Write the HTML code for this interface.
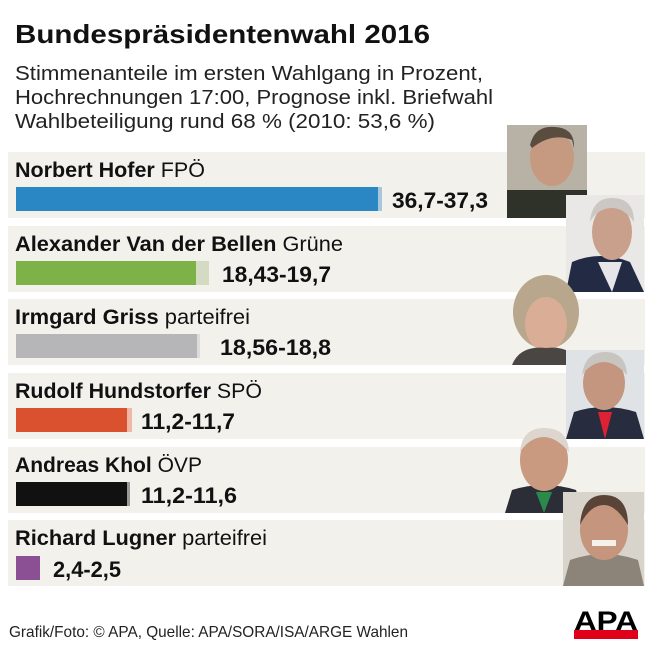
<!DOCTYPE html>
<html><head><meta charset="utf-8"><style>
body{margin:0;background:#fff}
svg text{font-family:"Liberation Sans",sans-serif}
</style></head><body>
<svg width="650" height="650" xmlns="http://www.w3.org/2000/svg">
<rect width="650" height="650" fill="#fff"/>
<text x="15" y="43" font-size="26" font-weight="bold" fill="#111" textLength="415" lengthAdjust="spacingAndGlyphs">Bundespräsidentenwahl 2016</text>
<text x="15" y="80" font-size="20" fill="#222" textLength="468" lengthAdjust="spacingAndGlyphs">Stimmenanteile im ersten Wahlgang in Prozent,</text>
<text x="15" y="104" font-size="20" fill="#222" textLength="478" lengthAdjust="spacingAndGlyphs">Hochrechnungen 17:00, Prognose inkl. Briefwahl</text>
<text x="15" y="128" font-size="20" fill="#222" textLength="420" lengthAdjust="spacingAndGlyphs">Wahlbeteiligung rund 68 % (2010: 53,6 %)</text>

<g fill="#f2f1ec">
<rect x="8" y="152" width="637" height="66"/>
<rect x="8" y="226" width="637" height="66"/>
<rect x="8" y="299" width="637" height="66"/>
<rect x="8" y="373" width="637" height="66"/>
<rect x="8" y="447" width="637" height="66"/>
<rect x="8" y="520" width="637" height="66"/>
</g>

<g font-size="21" fill="#111">
<text x="15" y="177" textLength="190" lengthAdjust="spacingAndGlyphs"><tspan font-weight="bold">Norbert Hofer</tspan> FPÖ</text>
<text x="15" y="251" textLength="328" lengthAdjust="spacingAndGlyphs"><tspan font-weight="bold">Alexander Van der Bellen</tspan> Grüne</text>
<text x="15" y="324" textLength="235" lengthAdjust="spacingAndGlyphs"><tspan font-weight="bold">Irmgard Griss</tspan> parteifrei</text>
<text x="15" y="398" textLength="247" lengthAdjust="spacingAndGlyphs"><tspan font-weight="bold">Rudolf Hundstorfer</tspan> SPÖ</text>
<text x="15" y="472" textLength="187" lengthAdjust="spacingAndGlyphs"><tspan font-weight="bold">Andreas Khol</tspan> ÖVP</text>
<text x="15" y="545" textLength="252" lengthAdjust="spacingAndGlyphs"><tspan font-weight="bold">Richard Lugner</tspan> parteifrei</text>
</g>

<rect x="16" y="187" width="362" height="24" fill="#2a87c4"/><rect x="378" y="187" width="4" height="24" fill="#a9c6dc"/>
<rect x="16" y="261" width="180" height="24" fill="#7db249"/><rect x="196" y="261" width="13" height="24" fill="#d3dcc3"/>
<rect x="16" y="334" width="181" height="24" fill="#b6b5b7"/><rect x="197" y="334" width="3" height="24" fill="#dddcdc"/>
<rect x="16" y="408" width="111" height="24" fill="#d9512f"/><rect x="127" y="408" width="5" height="24" fill="#edb8a6"/>
<rect x="16" y="482" width="111" height="24" fill="#111"/><rect x="127" y="482" width="3" height="24" fill="#999"/>
<rect x="16" y="556" width="24" height="24" fill="#8b4f94"/>

<g font-size="22" font-weight="bold" fill="#111">
<text x="392" y="208" textLength="96" lengthAdjust="spacingAndGlyphs">36,7-37,3</text>
<text x="222" y="282" textLength="109" lengthAdjust="spacingAndGlyphs">18,43-19,7</text>
<text x="220" y="355" textLength="111" lengthAdjust="spacingAndGlyphs">18,56-18,8</text>
<text x="141" y="429" textLength="94" lengthAdjust="spacingAndGlyphs">11,2-11,7</text>
<text x="141" y="503" textLength="96" lengthAdjust="spacingAndGlyphs">11,2-11,6</text>
<text x="53" y="577" textLength="68" lengthAdjust="spacingAndGlyphs">2,4-2,5</text>
</g>

<!-- portraits -->
<g>
<rect x="507" y="125" width="80" height="93" fill="#b8b2a6"/>
<rect x="507" y="190" width="80" height="28" fill="#2f3229"/>
<ellipse cx="552" cy="158" rx="22" ry="28" fill="#c69a80"/>
<path d="M530 145 Q535 125 555 127 Q575 128 574 148 L572 140 Q552 132 532 148Z" fill="#5a4d40"/>
</g>
<g>
<rect x="566" y="195" width="78" height="97" fill="#e9e8e6"/>
<path d="M566 292 L572 262 Q600 250 630 262 L644 292Z" fill="#232a44"/>
<path d="M598 262 L612 292 L622 262Z" fill="#e6e6ea"/>
<ellipse cx="612" cy="232" rx="20" ry="28" fill="#c9a08c"/>
<path d="M590 222 Q592 198 612 198 Q634 198 634 222 Q624 208 612 208 Q598 208 590 222Z" fill="#ccc7c2"/>
</g>
<g>
<ellipse cx="546" cy="312" rx="33" ry="37" fill="#b8a78c"/>
<ellipse cx="546" cy="324" rx="21" ry="27" fill="#d9ad96"/>
<path d="M512 365 Q520 345 546 348 Q572 345 580 365Z" fill="#4a4644"/>
</g>
<g>
<rect x="566" y="350" width="78" height="89" fill="#e0e3e6"/>
<path d="M566 439 L574 412 Q604 402 636 412 L644 439Z" fill="#272c3e"/>
<path d="M598 412 L605 439 L612 412Z" fill="#d23"/>
<ellipse cx="604" cy="383" rx="21" ry="27" fill="#c5967f"/>
<path d="M582 375 Q585 352 605 352 Q626 352 627 375 Q615 362 604 362 Q592 362 582 375Z" fill="#c8c4c0"/>
</g>
<g>
<path d="M505 513 L512 490 Q544 480 576 490 L583 513Z" fill="#2b2e37"/>
<path d="M536 492 L544 513 L552 492Z" fill="#2a8a4a"/>
<ellipse cx="544" cy="460" rx="24" ry="31" fill="#c99a80"/>
<path d="M520 452 Q522 428 544 428 Q568 428 569 452 Q556 437 544 437 Q530 437 520 452Z" fill="#dcd6cf"/>
</g>
<g>
<rect x="563" y="492" width="81" height="94" fill="#d8d4cc"/>
<path d="M563 586 L570 560 Q604 548 638 560 L644 586Z" fill="#8c8478"/>
<ellipse cx="604" cy="530" rx="24" ry="30" fill="#c6957e"/>
<path d="M580 525 Q582 495 604 495 Q628 495 628 525 Q616 505 604 505 Q590 505 580 525Z" fill="#5a4438"/>
<rect x="592" y="540" width="24" height="6" fill="#f4f0ea"/>
</g>

<text x="9" y="637" font-size="16" fill="#222" textLength="399" lengthAdjust="spacingAndGlyphs">Grafik/Foto: © APA, Quelle: APA/SORA/ISA/ARGE Wahlen</text>
<text x="574" y="630" font-size="27" font-weight="bold" fill="#000" textLength="64" lengthAdjust="spacingAndGlyphs">APA</text>
<rect x="574" y="630" width="64" height="9" fill="#e1001a"/>
</svg>
</body></html>
